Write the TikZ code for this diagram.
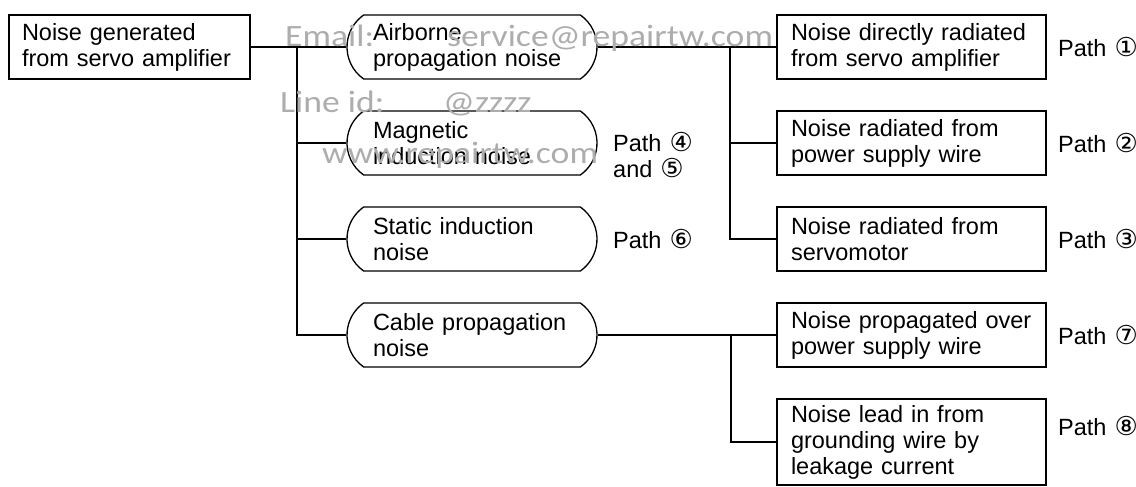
\documentclass[tikz,border=0pt]{standalone}
\usepackage{fontspec}
\setmainfont{Liberation Sans}
\newfontfamily\symf{DejaVu Sans}
\newfontfamily\wmf{Carlito}
\usetikzlibrary{shapes.misc}
\newcommand{\cnum}[1]{\hspace{8pt}{\symf\fontsize{26}{26}\selectfont #1}}

\begin{document}
\begin{tikzpicture}[x=1pt,y=1pt,
  every node/.style={font=\fontsize{23.5}{26}\selectfont},
  sqbox/.style={draw, line width=1.3pt, rectangle, align=left, inner ysep=0pt, minimum height=64pt},
  rbox/.style={draw, line width=1.3pt, rounded rectangle, rounded rectangle arc length=110, align=left, text width=198pt, inner xsep=0pt, inner ysep=0pt, minimum width=250pt, minimum height=64pt},
  conn/.style={line width=1.3pt},
  pathlbl/.style={anchor=west, inner sep=0pt, align=left},
  wm/.style={anchor=base west, inner sep=0pt, text=black!32, font=\wmf\fontsize{31}{31}\selectfont, xscale=1.15}
]
\useasboundingbox (0,0) rectangle (1136,-487);

% source
\node[sqbox, text width=215pt, inner xsep=13pt] (src) at (129.5,-47) {Noise generated\\from servo amplifier};

% middle rounded boxes
\node[rbox] (air) at (472,-47) {Airborne\\propagation noise};
\node[rbox] (mag) at (472,-143) {Magnetic\\induction noise};
\node[rbox] (sta) at (472,-239) {Static induction\\noise};
\node[rbox] (cab) at (472,-335) {Cable propagation\\noise};

% right boxes
\node[sqbox, text width=241pt, inner xsep=14pt] (r1) at (911.5,-47) {Noise directly radiated\\from servo amplifier};
\node[sqbox, text width=241pt, inner xsep=14pt] (r2) at (911.5,-143) {Noise radiated from\\power supply wire};
\node[sqbox, text width=241pt, inner xsep=14pt] (r3) at (911.5,-239) {Noise radiated from\\servomotor};
\node[sqbox, text width=241pt, inner xsep=14pt] (r4) at (911.5,-335) {Noise propagated over\\power supply wire};
\node[sqbox, text width=241pt, inner xsep=14pt, minimum height=86pt] (r5) at (911.5,-442) {Noise lead in from\\grounding wire by\\leakage current};

% path labels
\node[pathlbl] (p1) at (1058,-47) {Path\cnum{①}};
\node[pathlbl] (p2) at (1058,-143) {Path\cnum{②}};
\node[pathlbl] (p3) at (1058,-239) {Path\cnum{③}};
\node[pathlbl] (p7) at (1058,-335) {Path\cnum{⑦}};
\node[pathlbl] (p8) at (1058,-426) {Path\cnum{⑧}};
\node[pathlbl] (p45) at (613,-155) {Path\cnum{④}\\and\cnum{⑤}};
\node[pathlbl] (p6) at (613,-239) {Path\cnum{⑥}};

% connectors
\coordinate (tr) at (297,0);
\coordinate (rv1) at (730,0);
\coordinate (rv2) at (731,0);
\draw[conn] (src.east) -- (air.west);
\draw[conn] (tr |- src.east) |- (cab.west);
\draw[conn] (tr |- mag.west) -- (mag.west);
\draw[conn] (tr |- sta.west) -- (sta.west);
\draw[conn] (air.east) -- (r1.west);
\draw[conn] (rv1 |- air.east) |- (r3.west);
\draw[conn] (rv1 |- r2.west) -- (r2.west);
\draw[conn] (cab.east) -- (r4.west);
\draw[conn] (rv2 |- cab.east) |- (r5.west);

% watermark
\node[wm] (wm1) at (285,-47) {Email:};
\node[wm] (wm2) at (447,-47) {service@repairtw.com};
\node[wm] (wm3) at (280,-113) {Line id:};
\node[wm] (wm4) at (443,-113) {@zzzz};
\node[wm] (wm5) at (322,-163) {www.repairtw.com};
\end{tikzpicture}
\end{document}
